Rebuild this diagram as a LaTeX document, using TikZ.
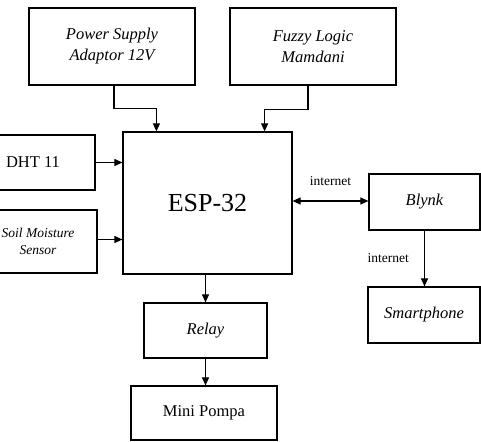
\documentclass[tikz,border=0pt]{standalone}
\usepackage{fontspec}
\setmainfont{Liberation Serif}
\usetikzlibrary{positioning,arrows.meta,calc}

\begin{document}
\begin{tikzpicture}[
  x=1pt, y=-1pt,
  >={Triangle[length=8pt,width=7pt]},
  block/.style={draw, line width=1.2pt, fill=white, align=center,
    inner sep=2pt, font=\fontsize{16.5}{21}\selectfont},
  itblock/.style={block, font=\fontsize{16.5}{21}\selectfont\itshape},
  link/.style={->, line width=1.1pt},
  netlabel/.style={font=\fontsize{13.5}{16}\selectfont, inner sep=1pt},
]
\useasboundingbox (0,0) rectangle (481,441);

% ---------------- inputs
\node[itblock, minimum width=166pt, minimum height=77pt] (psu) at (112,46.5)
  {Power Supply\\Adaptor 12V};
\node[itblock, minimum width=166pt, minimum height=77pt] (fuzzy) at (313,46.5)
  {Fuzzy Logic\\Mamdani};
\node[block, minimum width=124pt, minimum height=55pt] (dht) at (33,162.5) {DHT 11};
\node[itblock, minimum width=118pt, minimum height=63pt,
  font=\fontsize{13.5}{17}\selectfont\itshape] (soil) at (38,241.5)
  {Soil Moisture\\Sensor};

% ---------------- controller
\node[block, minimum width=169pt, minimum height=142pt,
  font=\fontsize{26}{30}\selectfont] (esp) at (207.5,203) {ESP-32};

% ---------------- outputs
\node[block, minimum width=123pt, minimum height=55pt] (relay) at (205.5,330.5) {\itshape Relay};
\node[block, minimum width=146pt, minimum height=54pt] (pompa) at (204,413) {Mini Pompa};
\node[itblock, minimum width=111pt, minimum height=56pt] (blynk) at (424.5,202) {Blynk};
\node[itblock, minimum width=112pt, minimum height=56pt] (smart) at (424,315) {Smartphone};

% ---------------- connectors
\coordinate (espin1) at ([xshift=34pt]esp.north west);
\coordinate (espin2) at ([xshift=-28pt]esp.north east);
\draw[link] ([xshift=2pt]psu.south) -- ++(0,23) -| (espin1);
\draw[link] ([xshift=-5pt]fuzzy.south) -- ++(0,24) -| (espin2);
\draw[link] (dht.east) -- (dht.east -| esp.west);
\draw[link] ([yshift=2pt]soil.east) -- ([yshift=2pt]soil.east -| esp.west);
\draw[link] (relay.north |- esp.south) -- (relay.north);
\draw[link] (relay.south) -- (relay.south |- pompa.north);

\draw[<->, line width=1.1pt] ([yshift=1pt]blynk.west -| esp.east) -- ([yshift=1pt]blynk.west)
  node[netlabel, midway, above=14pt] (net1) {internet};
\draw[link] (blynk.south) -- (blynk.south |- smart.north)
  node[netlabel, midway, left=14pt] (net2) {internet};

\end{tikzpicture}
\end{document}
